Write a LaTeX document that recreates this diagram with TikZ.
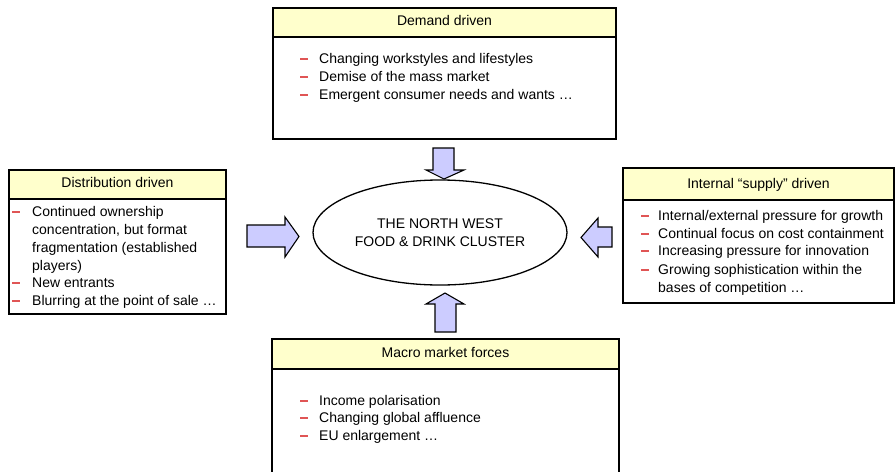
\documentclass[tikz,border=0pt]{standalone}
\usepackage{fontspec}
\setmainfont{Liberation Sans}
\definecolor{hdryellow}{HTML}{FFFFCC}
\definecolor{arrowfill}{HTML}{CCCCFF}
\definecolor{dashred}{HTML}{E05555}
\tikzset{
  boxline/.style={draw=black, line width=1.3pt},
  txt/.style={inner sep=0pt, anchor=west, text height=10pt, text depth=3pt, font=\fontsize{14}{16}\selectfont},
  hdrtxt/.style={inner sep=0pt, text height=10pt, text depth=3pt, font=\fontsize{14}{16}\selectfont},
  dsh/.style={inner sep=0pt, outer sep=0pt, anchor=west, fill=dashred, draw=none, minimum width=8pt, minimum height=1.3pt, yshift=1pt},
  blockarrow/.style={draw=black, line width=1.1pt, fill=arrowfill, line join=miter},
}
\begin{document}
\begin{tikzpicture}[x=1pt,y=-1pt]
\useasboundingbox (0,0) rectangle (896,471);
\clip (0,0) rectangle (896,471);

% ---------- Demand driven (top) ----------
\fill[hdryellow] (273,8) rectangle (616,37);
\draw[boxline] (273,8) rectangle (616,139);
\draw[boxline] (273,37) -- (616,37);
\node[hdrtxt] (dh) at (444.5,22) {Demand driven};
\node[dsh] (dd1) at (300,60) {};
\node[txt] (dt1) at (319,60) {Changing workstyles and lifestyles};
\node[dsh] (dd2) at (300,78) {};
\node[txt] (dt2) at (319,78) {Demise of the mass market};
\node[dsh] (dd3) at (300,96) {};
\node[txt] (dt3) at (319,96) {Emergent consumer needs and wants …};

% ---------- Distribution driven (left) ----------
\fill[hdryellow] (9,170) rectangle (226,199);
\draw[boxline] (9,170) rectangle (226,314);
\draw[boxline] (9,199) -- (226,199);
\node[hdrtxt] (lh) at (117.5,184) {Distribution driven};
\node[dsh] (ld1) at (12,213) {};
\node[txt] (lt1) at (32,213) {Continued ownership};
\node[txt] (lt1b) at (32,231) {concentration, but format};
\node[txt] (lt1c) at (32,249) {fragmentation (established};
\node[txt] (lt1d) at (32,267) {players)};
\node[dsh] (ld2) at (12,284) {};
\node[txt] (lt2) at (32,284) {New entrants};
\node[dsh] (ld3) at (12,302) {};
\node[txt] (lt3) at (32,302) {Blurring at the point of sale …};

% ---------- Internal supply driven (right) ----------
\fill[hdryellow] (623,168) rectangle (894,200);
\draw[boxline] (623,168) rectangle (894,303);
\draw[boxline] (623,200) -- (894,200);
\node[hdrtxt] (rh) at (758.5,185) {Internal “supply” driven};
\node[dsh] (rd1) at (641,217) {};
\node[txt] (rt1) at (658,217) {Internal/external pressure for growth};
\node[dsh] (rd2) at (641,235) {};
\node[txt] (rt2) at (658,235) {Continual focus on cost containment};
\node[dsh] (rd3) at (641,252) {};
\node[txt] (rt3) at (658,252) {Increasing pressure for innovation};
\node[dsh] (rd4) at (641,271) {};
\node[txt] (rt4) at (658,271) {Growing sophistication within the};
\node[txt] (rt4b) at (658,289) {bases of competition …};

% ---------- Macro market forces (bottom) ----------
\fill[hdryellow] (272,339) rectangle (619,369);
\draw[boxline] (272,339) rectangle (619,480);
\draw[boxline] (272,369) -- (619,369);
\node[hdrtxt] (bh) at (445.5,354) {Macro market forces};
\node[dsh] (bd1) at (300,402) {};
\node[txt] (bt1) at (319,402) {Income polarisation};
\node[dsh] (bd2) at (300,419) {};
\node[txt] (bt2) at (319,419) {Changing global affluence};
\node[dsh] (bd3) at (300,437) {};
\node[txt] (bt3) at (319,437) {EU enlargement …};

% ---------- Central ellipse ----------
\draw[line width=1.3pt] (440,232.5) ellipse [x radius=127, y radius=52.5];
\node[hdrtxt] (c1) at (440,225) {THE NORTH WEST};
\node[hdrtxt] (c2) at (440,243) {FOOD \& DRINK CLUSTER};

% ---------- Block arrows ----------
% top (down)
\draw[blockarrow] (433,148) -- (454,148) -- (454,170) -- (464,170) -- (444,179) -- (426,170) -- (433,170) -- cycle;
% bottom (up)
\draw[blockarrow] (435,332) -- (456,332) -- (456,304) -- (464,304) -- (445,293) -- (426,304) -- (435,304) -- cycle;
% left (right-pointing)
\draw[blockarrow] (247,225) -- (285,225) -- (285,217) -- (299,236.5) -- (285,257) -- (285,247) -- (247,247) -- cycle;
% right (left-pointing)
\draw[blockarrow] (612,227) -- (598,227) -- (598,218) -- (581,237.5) -- (598,257) -- (598,247) -- (612,247) -- cycle;
\end{tikzpicture}
\end{document}
